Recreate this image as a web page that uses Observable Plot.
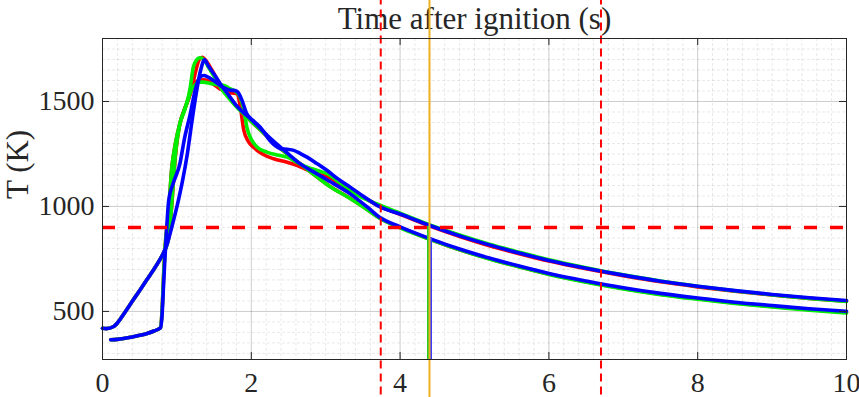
<!DOCTYPE html>
<html><head><meta charset="utf-8">
<script src="https://cdn.jsdelivr.net/npm/d3@7"></script>
<script src="https://cdn.jsdelivr.net/npm/@observablehq/plot@0.6"></script>
<style>html,body{margin:0;padding:0;background:#fff;} svg text{font-family:'Liberation Serif','Times New Roman',serif;}</style>
</head><body><div id="chart"></div>
<script>
// ---- Data ----
const xTicks = [0, 2, 4, 6, 8, 10];
const yTicks = [500, 1000, 1500];
const xLabel = "Time after ignition (s)";
const yLabel = "T (K)";
const thresholdT = 900;
const redMarkers = [3.74, 6.70];
const orangeMarker = 4.395;
const greenDrop = {t: 4.375, T: 905};
const blueDrop = {t: 4.415, T: 847};

// Case A: gradual rise from t=0, sharp peak, lower decay branch
const tRedA = [0,0.05,0.15,0.2,0.3,0.4,0.5,0.6,0.7,0.8,0.87,0.9,0.93,0.98,1.04,1.1,1.15,1.2,1.25,1.3,1.34,1.4,1.47,1.55,1.65,1.75,1.85,2.0,2.15,2.3,2.48,2.65,2.85,3.06,3.3,3.5,3.73,4.0,4.4,4.8,5.2,5.6,6.0,6.5,7.0,7.5,8.0,8.5,9.0,9.5,10];
const TRedA = [420,418,428,445,495,548,600,653,706,765,822,870,1000,1240,1394,1460,1505,1560,1640,1700,1711,1690,1650,1600,1545,1500,1460,1405,1355,1305,1250,1205,1150,1095,1045,1000,944,900,844,794,751,713,678,641,609,582,560,540,524,509,496];
const tGreenA = [0,0.05,0.15,0.2,0.3,0.4,0.5,0.6,0.7,0.8,0.87,0.9,0.93,0.98,1.04,1.1,1.13,1.18,1.22,1.27,1.31,1.36,1.43,1.5,1.6,1.7,1.8,1.9,2.0,2.15,2.3,2.48,2.65,2.85,3.06,3.3,3.5,3.73,4.0,4.4,4.8,5.2,5.6,6.0,6.5,7.0,7.5,8.0,8.5,9.0,9.5,10];
const TGreenA = [420,418,428,445,495,548,600,653,706,765,822,875,1010,1250,1394,1455,1489,1568,1663,1700,1708,1700,1660,1620,1560,1515,1475,1440,1405,1355,1305,1250,1205,1150,1094,1044,999,943,898,843,793,750,712,676,639,607,580,558,538,521,506,492];
const tBlueA = [0,0.05,0.15,0.2,0.3,0.4,0.5,0.6,0.7,0.8,0.87,0.93,1.02,1.08,1.14,1.2,1.26,1.32,1.37,1.43,1.5,1.6,1.7,1.8,1.9,2.0,2.1,2.21,2.34,2.48,2.65,2.88,3.1,3.33,3.55,3.73,4.0,4.4,4.8,5.2,5.6,6.0,6.5,7.0,7.5,8.0,8.5,9.0,9.5,10];
const TBlueA = [420,418,428,445,495,548,600,653,706,765,822,900,1029,1130,1250,1400,1540,1650,1698,1665,1630,1575,1528,1480,1445,1415,1380,1340,1298,1255,1205,1156,1110,1060,1000,947,903,847,797,754,716,681,645,613,586,564,544,528,513,501];

// Case B: flat start at t=0.1, sudden rise at 0.8 s, rounded peak, upper decay branch
const tRedB = [0.11,0.2,0.3,0.4,0.5,0.6,0.7,0.78,0.8,0.82,0.84,0.86,0.88,0.93,0.98,1.04,1.1,1.15,1.2,1.25,1.3,1.36,1.42,1.5,1.6,1.67,1.74,1.81,1.85,1.9,1.96,2.03,2.15,2.3,2.48,2.62,2.75,2.9,3.06,3.3,3.5,3.73,4.0,4.4,4.8,5.2,5.6,6.0,6.5,7.0,7.5,8.0,8.5,9.0,9.5,10];
const TRedB = [365,367,372,378,386,395,408,422,500,660,800,880,930,1180,1300,1394,1460,1510,1560,1590,1600,1603,1598,1580,1556,1544,1540,1537,1480,1362,1310,1282,1250,1227,1211,1195,1175,1155,1135,1085,1045,1000,962,906,857,813,775,740,703,670,641,617,596,578,562,549];
const tGreenB = [0.11,0.2,0.3,0.4,0.5,0.6,0.7,0.78,0.8,0.82,0.84,0.86,0.88,0.93,0.98,1.04,1.1,1.15,1.2,1.25,1.29,1.35,1.47,1.55,1.63,1.72,1.8,1.85,1.9,1.94,2.0,2.08,2.21,2.35,2.48,2.61,2.75,2.9,3.02,3.2,3.4,3.69,4.0,4.4,4.8,5.2,5.6,6.0,6.5,7.0,7.5,8.0,8.5,9.0,9.5,10];
const TGreenB = [365,367,372,378,386,395,408,422,500,660,800,880,930,1180,1300,1394,1460,1510,1560,1580,1592,1592,1584,1580,1576,1560,1545,1520,1460,1378,1320,1282,1259,1245,1235,1211,1187,1170,1156,1110,1060,1012,968,912,864,820,782,746,708,674,645,620,598,579,562,547];
const tBlueB = [0.11,0.2,0.3,0.4,0.5,0.6,0.7,0.78,0.8,0.82,0.84,0.86,0.89,0.95,1.04,1.1,1.18,1.25,1.31,1.36,1.42,1.49,1.57,1.65,1.72,1.78,1.82,1.87,1.94,2.02,2.12,2.25,2.32,2.39,2.48,2.57,2.66,2.75,2.88,3.02,3.17,3.33,3.5,3.73,4.0,4.4,4.8,5.2,5.6,6.0,6.5,7.0,7.5,8.0,8.5,9.0,9.5,10];
const TBlueB = [365,367,372,378,386,395,408,422,480,620,760,880,1029,1110,1203,1320,1441,1560,1616,1624,1616,1600,1580,1562,1554,1552,1544,1510,1441,1410,1378,1314,1290,1275,1272,1267,1252,1235,1205,1171,1130,1092,1050,998,964,909,860,817,778,743,706,673,644,620,599,581,565,552];

const series = [
  {color: "#ff0000", t: tRedA, T: TRedA},
  {color: "#ff0000", t: tRedB, T: TRedB},
  {color: "#00ee00", t: tGreenA, T: TGreenA},
  {color: "#00ee00", t: tGreenB, T: TGreenB},
  {color: "#0000ff", t: tBlueA, T: TBlueA},
  {color: "#0000ff", t: tBlueB, T: TBlueB}
];

// ---- Layout / styles ----
const W = 859, H = 397;
const mL = 102, mR = 13, mT = 38, mB = 38;
const frameH = H - mT - mB, frameW = W - mL - mR;
const tickLen = 7;
const ink = "#262626";
const serif = "'Liberation Serif', 'Times New Roman', serif";
const yDomain = [271, 1800];
const fullSpan = [40, 2100]; // lines that run across the whole picture
const minorX = d3.range(0, 10.0001, 0.2).filter(v => Math.abs(v / 2 - Math.round(v / 2)) > 1e-6);
const minorY = d3.range(300, 1800, 50).filter(v => v % 500 !== 0);

const lineMarks = series.map(s => Plot.line(s.t.map((t, i) => ({t, T: s.T[i]})), {
  x: "t", y: "T", stroke: s.color, strokeWidth: 3.6, strokeLinejoin: "round", strokeLinecap: "round", curve: "monotone-x"
}));

const chart = Plot.plot({
  width: W, height: H,
  marginLeft: mL, marginRight: mR, marginTop: mT, marginBottom: mB,
  x: {domain: [0, 10]},
  y: {domain: yDomain},
  style: {fontFamily: serif, fontSize: "28px", background: "#fff", color: ink},
  marks: [
    Plot.gridX(minorX, {stroke: "#000", strokeOpacity: 0.09, strokeDasharray: "3,2"}),
    Plot.gridY(minorY, {stroke: "#000", strokeOpacity: 0.09, strokeDasharray: "3,2"}),
    Plot.gridX(xTicks, {stroke: "#000", strokeOpacity: 0.2}),
    Plot.gridY(yTicks, {stroke: "#000", strokeOpacity: 0.2}),
    Plot.text([xLabel], {frameAnchor: "top", lineAnchor: "bottom", dy: -10, fontSize: 31, fontFamily: serif, fill: ink}),
    Plot.text([yLabel], {frameAnchor: "left", rotate: -90, lineAnchor: "bottom", dx: -74.5, fontSize: 31, fontFamily: serif, fill: ink}),
    ...lineMarks,
    Plot.ruleY([thresholdT], {stroke: "#ff0000", strokeWidth: 3.5, strokeDasharray: "13,13"}),
    Plot.ruleX(redMarkers, {y1: fullSpan[0], y2: fullSpan[1], stroke: "#ff0000", strokeWidth: 2, strokeDasharray: "8,5"}),
    Plot.ruleX([greenDrop], {x: "t", y1: yDomain[0], y2: "T", stroke: "#22cc22", strokeWidth: 2}),
    Plot.ruleX([blueDrop], {x: "t", y1: yDomain[0], y2: "T", stroke: "#3b3bff", strokeWidth: 2}),
    Plot.ruleX([orangeMarker], {y1: fullSpan[0], y2: fullSpan[1], stroke: "#EDB120", strokeWidth: 2}),
    Plot.frame({stroke: ink, strokeWidth: 1}),
    Plot.ruleX(xTicks, {insetTop: frameH - tickLen, stroke: ink}),
    Plot.ruleX(xTicks, {insetBottom: frameH - tickLen, stroke: ink}),
    Plot.ruleY(yTicks, {insetRight: frameW - tickLen, stroke: ink}),
    Plot.ruleY(yTicks, {insetLeft: frameW - tickLen, stroke: ink}),
    Plot.axisX(xTicks, {tickSize: 0, tickPadding: 13, label: null, tickFormat: d => String(d), fontSize: 28, fontFamily: serif, fontVariant: "normal", fill: ink}),
    Plot.axisY(yTicks, {tickSize: 0, tickPadding: 8, label: null, tickFormat: d => String(d), fontSize: 28, fontFamily: serif, fontVariant: "normal", fill: ink})
  ]
});
document.getElementById("chart").appendChild(chart);
</script></body></html>
